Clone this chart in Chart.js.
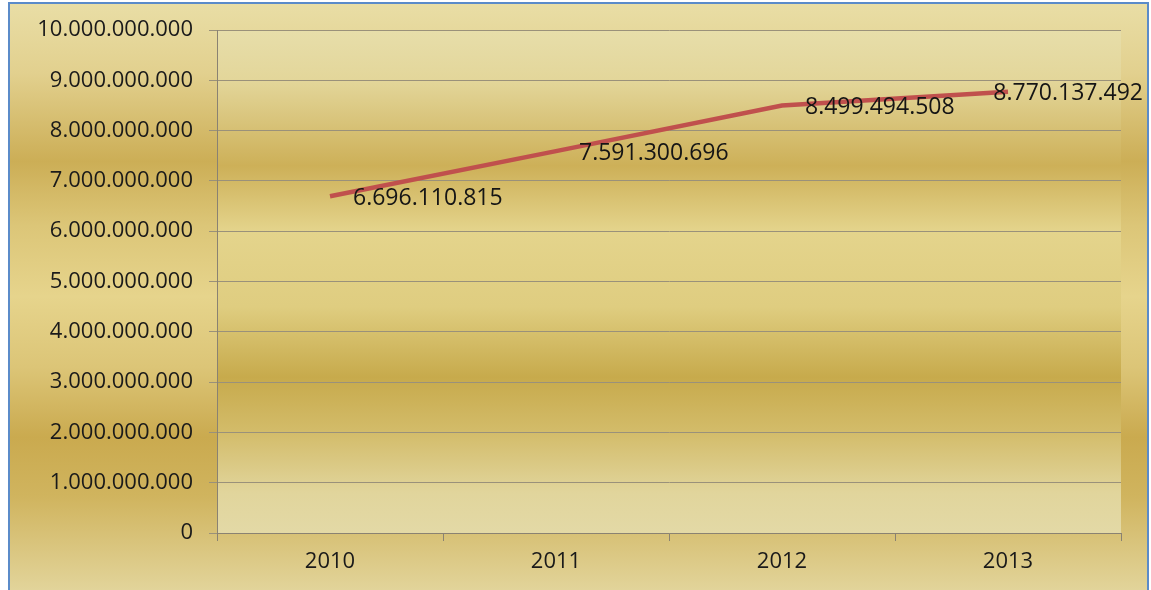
<!DOCTYPE html>
<html>
<head>
<meta charset="utf-8">
<script src="https://cdn.jsdelivr.net/npm/chart.js@4"></script>
<style>
html,body{margin:0;padding:0;background:#fff;}
#wrap{width:1151px;height:590px;position:relative;}
</style>
</head>
<body>
<div id="wrap"><canvas id="c" width="1151" height="590"></canvas></div>
<script>
const categories = ['2010', '2011', '2012', '2013'];
const values = [6696110815, 7591300696, 8499494508, 8770137492];
const yTicks = [0, 1000000000, 2000000000, 3000000000, 4000000000, 5000000000, 6000000000, 7000000000, 8000000000, 9000000000, 10000000000];

function fmt(v){
  return String(Math.round(v)).replace(/\B(?=(\d{3})+(?!\d))/g, '.');
}

const FONT = '"Open Sans", "Liberation Sans", sans-serif';

const bgPlugin = {
  id: 'bg',
  beforeDraw(chart){
    const ctx = chart.ctx;
    const W = chart.width, H = chart.height;
    ctx.save();
    ctx.fillStyle = '#ffffff';
    ctx.fillRect(0,0,W,H);
    const o = ctx.createLinearGradient(0, 3, 0, H);
    o.addColorStop(0.00, '#E9DEA6');
    o.addColorStop(0.12, '#E2D08E');
    o.addColorStop(0.27, '#CCAE56');
    o.addColorStop(0.38, '#DCC678');
    o.addColorStop(0.50, '#E6D48C');
    o.addColorStop(0.62, '#DCC577');
    o.addColorStop(0.74, '#CAAA4F');
    o.addColorStop(0.84, '#D0B45E');
    o.addColorStop(1.00, '#E2D49A');
    ctx.fillStyle = o;
    ctx.fillRect(9, 3, W-12, H-3);
    const a = chart.chartArea;
    const g = ctx.createLinearGradient(0, a.top, 0, a.bottom);
    g.addColorStop(0.00, '#E7DEAA');
    g.addColorStop(0.10, '#E3D69A');
    g.addColorStop(0.27, '#CDB058');
    g.addColorStop(0.40, '#E4D48C');
    g.addColorStop(0.55, '#DFCD80');
    g.addColorStop(0.69, '#C7AA4C');
    g.addColorStop(0.80, '#D3BC6A');
    g.addColorStop(0.92, '#E1D59C');
    g.addColorStop(1.00, '#E3D9A6');
    ctx.fillStyle = g;
    ctx.fillRect(a.left, a.top, a.right-a.left, a.bottom-a.top);
    ctx.strokeStyle = '#5B8BC9';
    ctx.lineWidth = 2;
    ctx.strokeRect(9, 3, W-12, H+5);
    ctx.restore();
  }
};

const labelPlugin = {
  id: 'dlabels',
  afterDatasetsDraw(chart){
    const ctx = chart.ctx;
    const meta = chart.getDatasetMeta(0);
    ctx.save();
    ctx.font = '23px ' + FONT;
    ctx.fillStyle = '#151515';
    ctx.textBaseline = 'middle';
    ctx.textAlign = 'left';
    meta.data.forEach((pt, i) => {
      const t = fmt(values[i]);
      const w = ctx.measureText(t).width;
      let x = pt.x + 23;
      if (x + w > chart.width - 8) x = chart.width - 8 - w;
      ctx.fillText(t, x, pt.y + 2);
    });
    ctx.restore();
  }
};

new Chart(document.getElementById('c'), {
  type: 'line',
  data: {
    labels: categories,
    datasets: [{
      data: values,
      borderColor: '#C0504D',
      borderWidth: 4.5,
      pointRadius: 0,
      tension: 0,
      fill: false
    }]
  },
  options: {
    responsive: false,
    animation: false,
    layout: { padding: { left: 0, top: 30, right: 30, bottom: 0 } },
    plugins: { legend: { display: false }, tooltip: { enabled: false } },
    scales: {
      x: {
        offset: true,
        grid: { offset: true, drawOnChartArea: false, color: '#8A8272', tickLength: 8 },
        border: { color: '#8A8272', width: 1 },
        ticks: { color: '#1a1a1a', font: { family: FONT, size: 22 }, padding: 8 },
        afterFit(s){ s.height = 57; }
      },
      y: {
        min: 0, max: 10000000000,
        afterBuildTicks(s){ s.ticks = yTicks.map(v => ({ value: v })); },
        grid: { color: '#9A917A', tickLength: 8 },
        border: { color: '#8A8272', width: 1 },
        ticks: { color: '#1a1a1a', font: { family: FONT, size: 22 }, padding: 16, callback: v => fmt(v) },
        afterFit(s){ s.width = 217; }
      }
    }
  },
  plugins: [bgPlugin, labelPlugin]
});
</script>
</body>
</html>
